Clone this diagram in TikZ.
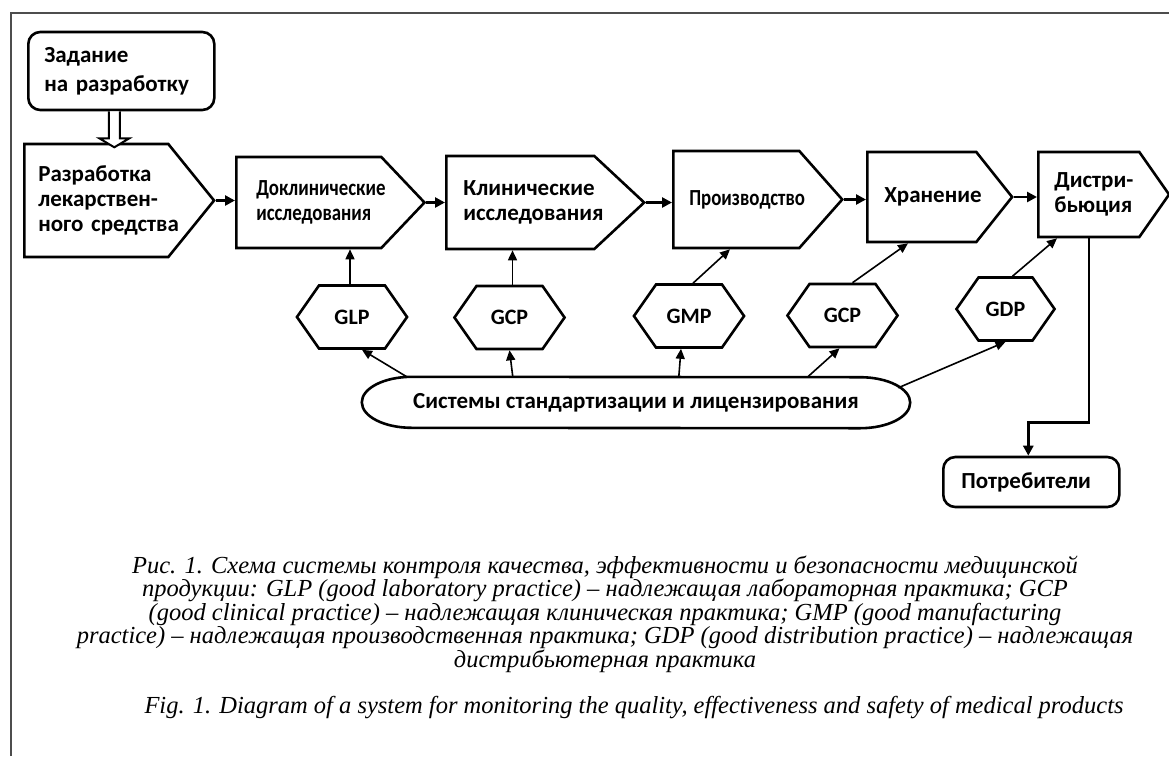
\documentclass[tikz,border=0pt]{standalone}
\usepackage{fontspec}
\setmainfont{Carlito}
\newfontfamily\capserif{Liberation Serif}
\newfontfamily\narrowsans[FakeStretch=0.82]{Carlito}
\usetikzlibrary{shapes.symbols,arrows.meta}
\newcommand\labfont{\bfseries\fontsize{23}{25}\selectfont\hyphenpenalty=10000\exhyphenpenalty=10000}
\newcommand\labnarrow{\narrowsans\bfseries\fontsize{23}{25}\selectfont\hyphenpenalty=10000}
\newcommand\hexfont{\bfseries\fontsize{22}{25}\selectfont}
\newcommand\capfont{\capserif\itshape\fontsize{24.5}{23.5}\selectfont}
\definecolor{framegrey}{HTML}{4D4D4D}
\tikzset{
  stage/.style    = {shape=signal, signal to=east, draw, line width=2.6pt,
                     align=left, font=\labfont, anchor=west, inner ysep=0pt},
  practice/.style = {shape=signal, signal to=east and west, draw, line width=2.6pt,
                     align=center, font=\hexfont, minimum height=63pt,
                     text width=46pt, inner xsep=10pt, signal pointer angle=110},
  endpoint/.style = {draw, line width=2.6pt, rounded corners=12pt, align=left,
                     font=\labfont, anchor=west},
  flow/.style     = {-{Triangle[length=10pt,width=10pt]}, line width=2.6pt},
  link/.style     = {-{Triangle[length=10pt,width=9pt]}, line width=1.6pt},
  hollow/.style   = {line width=2pt, fill=white},
  outline/.style  = {line width=2.6pt},
  caption/.style  = {align=center, font=\capfont, inner sep=0pt},
}
\begin{document}
\begin{tikzpicture}[x=1pt,y=-1pt]
  \useasboundingbox (0,0) rectangle (1169,756);
  \draw[framegrey, line width=2pt] (10.5,756) -- (10.5,12.5) -- (1169,12.5);

  % task and main chain
  \node[endpoint, minimum width=186pt, minimum height=78pt, text width=154pt, inner xsep=16pt]
       (task) at (27,71) {Задание\\[4pt]на~разработку};
  \node[stage, minimum height=113pt, text width=116pt, inner xsep=14pt,
        signal pointer angle=102] (dev) at (23,200.5) {Разработка\\лекарствен-\\ного~средства};
  \node[stage, minimum height=91pt, text width=105pt, inner xsep=20pt,
        signal pointer angle=93, font=\labnarrow] (pre) at (235,202.5) {Доклинические\\исследования};
  \node[stage, minimum height=93pt, text width=114pt, inner xsep=17pt,
        signal pointer angle=86] (clin) at (445,202.5) {Клинические\\исследования};
  \node[stage, minimum height=97pt, text width=94pt, inner xsep=16pt,
        signal pointer angle=97, font=\labnarrow] (prod) at (672,199.5) {Производство};
  \node[stage, minimum height=90pt, text width=75pt, inner xsep=17pt,
        signal pointer angle=103] (stor) at (866,197) {Хранение};
  \node[stage, minimum height=85pt, text width=69pt, inner xsep=16pt,
        signal pointer angle=110] (distr) at (1037,194.5) {Дистри-\\бьюция};
  \node[endpoint, minimum width=176pt, minimum height=50pt, text width=140pt, inner xsep=18pt]
       (cons) at (942,482) {Потребители};

  % practices
  \node[practice] (glp)  at (352,317)     {GLP};
  \node[practice] (gcpa) at (509.5,317.5) {GCP};
  \node[practice] (gmp)  at (689,316)     {GMP};
  \node[practice] (gcpb) at (842.5,315.5) {GCP};
  \node[practice, inner xsep=4pt] (gdp) at (1005.5,309) {GDP};

  % standards
  \node[font=\labfont, minimum width=548pt, minimum height=51pt, inner sep=0pt]
       (sys) at (636,402.5) {Системы стандартизации и лицензирования};
  \draw[outline] ([xshift=50pt]sys.north west)
        arc[start angle=90, end angle=270, x radius=50pt, y radius=25.5pt]
        -- ([xshift=-50pt]sys.south east)
        arc[start angle=-90, end angle=90, x radius=50pt, y radius=25.5pt] -- cycle;

  \coordinate (hand) at ([xshift=-7pt]task.south);
  \draw[hollow] ([xshift=-5.5pt]hand) -- ++(0,27) -- ++(-9.5,0) -- ++(15,9)
        -- ++(15,-9) -- ++(-9.5,0) -- ++(0,-27);

  \draw[flow] (dev.east) -- (dev.east -| pre.west);
  \draw[flow] (pre.east) -- (pre.east -| clin.west);
  \draw[flow] (clin.east) -- (clin.east -| prod.west);
  \draw[flow] (prod.east) -- (prod.east -| stor.west);
  \draw[flow] (stor.east) -- (stor.east -| distr.west);
  \draw[flow] ([xshift=52pt]distr.south west) |- ([xshift=-3pt,yshift=33pt]cons.north)
        -- ([xshift=-3pt]cons.north);

  \draw[link] ([xshift=-2pt]glp.north) -- ([xshift=-2pt]glp.north |- pre.south);
  \draw[link] ([xshift=3pt]gcpa.north) -- ([xshift=3pt]gcpa.north |- clin.south);
  \draw[link] ([xshift=4pt]gmp.north) -- ([xshift=58pt]prod.south west);
  \draw[link] ([xshift=10pt]gcpb.north) -- ([xshift=42pt]stor.south west);
  \draw[link] ([xshift=7pt]gdp.north) -- ([xshift=20pt]distr.south west);

  \draw[link] ([xshift=45pt]sys.north west) -- ([xshift=10pt]glp.south);
  \draw[link] ([xshift=151pt]sys.north west) -- (gcpa.south);
  \draw[link] ([xshift=317pt]sys.north west) -- ([xshift=-8pt]gmp.south);
  \draw[link] ([xshift=446pt]sys.north west) -- ([xshift=-3pt]gcpb.south);
  \draw[link] ([xshift=-12pt,yshift=-11pt]sys.north east) -- (gdp.south);

  % caption
  \node[caption] (cap) at (605,614) {Рис. 1. Схема системы контроля качества, эффективности и безопасности медицинской\\
    продукции: GLP (good laboratory practice) – надлежащая лабораторная практика; GCP\\
    (good clinical practice) – надлежащая клиническая практика; GMP (good manufacturing\\
    practice) – надлежащая производственная практика; GDP (good distribution practice) – надлежащая\\
    дистрибьютерная практика};
  \node[caption] (fig) at (634,708) {Fig. 1. Diagram of a system for monitoring the quality, effectiveness and safety of medical products};
\end{tikzpicture}
\end{document}
